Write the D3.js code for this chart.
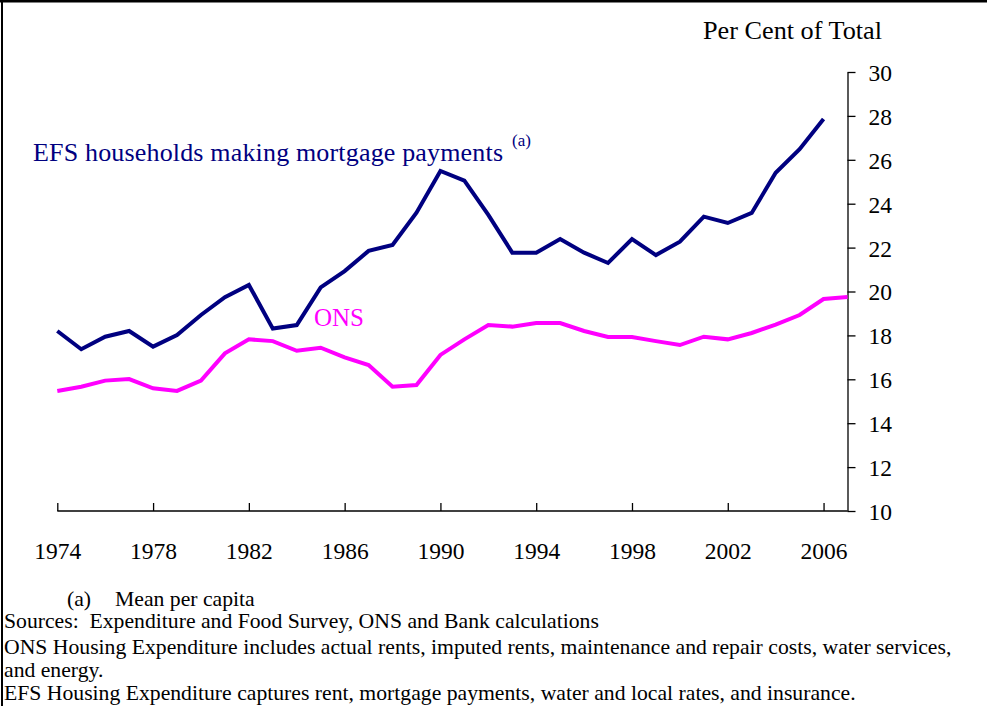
<!DOCTYPE html>
<html>
<head>
<meta charset="utf-8">
<script src="https://cdn.jsdelivr.net/npm/d3@7"></script>
<style>
  html, body { margin: 0; padding: 0; background: #fff; }
  svg { display: block; }
  text { font-family: "Liberation Serif", "Times New Roman", serif; white-space: pre; }
</style>
</head>
<body>
<svg id="chart" width="987" height="706"></svg>
<script>
const years = d3.range(1974, 2008);
const efsValues = [18.2, 17.37, 17.94, 18.2, 17.49, 18.02, 18.93, 19.74, 20.3, 18.31,
  18.47, 20.19, 20.93, 21.85, 22.12, 23.59, 25.49, 25.05, 23.49, 21.77,
  21.77, 22.39, 21.77, 21.3, 22.39, 21.66, 22.27, 23.41, 23.12, 23.58,
  25.41, 26.48, 27.86];
const onsValues = [15.47, 15.66, 15.94, 16.01, 15.59, 15.47, 15.94, 17.18, 17.82, 17.74,
  17.3, 17.44, 17.0, 16.65, 15.66, 15.74, 17.11, 17.82, 18.47, 18.4,
  18.56, 18.56, 18.2, 17.93, 17.93, 17.74, 17.56, 17.94, 17.82, 18.11,
  18.49, 18.93, 19.66, 19.75];
const xTickYears = [1974, 1978, 1982, 1986, 1990, 1994, 1998, 2002, 2006];
const yTicks = [10, 12, 14, 16, 18, 20, 22, 24, 26, 28, 30];
const labels = {
  efs: "EFS households making mortgage payments",
  efsNote: "(a)",
  ons: "ONS",
  unit: "Per Cent of Total"
};
const footnotes = [
  "Sources:  Expenditure and Food Survey, ONS and Bank calculations",
  "ONS Housing Expenditure includes actual rents, imputed rents, maintenance and repair costs, water services,",
  "and energy.",
  "EFS Housing Expenditure captures rent, mortgage payments, water and local rates, and insurance."
];

const SERIF = '"Liberation Serif", "Times New Roman", serif';
const svg = d3.select("#chart");
const x = d3.scaleLinear().domain([1974, 2007]).range([57.3, 847.5]);
const y = d3.scaleLinear().domain([10, 30]).range([511, 72]);

// frame (top and left edges)
svg.append("line").attr("x1", 0).attr("x2", 987).attr("y1", 1).attr("y2", 1)
  .attr("stroke", "#000").attr("stroke-width", 3);
svg.append("line").attr("x1", 2).attr("x2", 2).attr("y1", 0).attr("y2", 706)
  .attr("stroke", "#000").attr("stroke-width", 2);

// x axis
const xAxis = d3.axisBottom(x).tickValues(xTickYears).tickFormat(d3.format("d"))
  .tickSizeInner(-8).tickSizeOuter(0).tickPadding(0);
const gx = svg.append("g").attr("transform", "translate(0,511)").call(xAxis);
gx.select(".domain").attr("stroke", "#000").attr("stroke-width", 1.3)
  .attr("d", `M${x(1974)},0H${x(2007)}`);
gx.selectAll(".tick line").attr("stroke", "#000").attr("stroke-width", 1.3);
gx.selectAll(".tick text").attr("y", 48).attr("dy", null)
  .attr("font-size", 23.5).attr("fill", "#000").attr("font-family", SERIF);

// y axis (right side, ticks outward)
const yAxis = d3.axisRight(y).tickValues(yTicks).tickSizeInner(8).tickSizeOuter(0).tickPadding(13);
const gy = svg.append("g").attr("transform", `translate(${x(2007)},0)`).call(yAxis);
gy.select(".domain").attr("stroke", "#000").attr("stroke-width", 1.3);
gy.selectAll(".tick line").attr("stroke", "#000").attr("stroke-width", 1.3);
gy.selectAll(".tick text").attr("dy", "0.36em").attr("font-size", 23.5).attr("fill", "#000")
  .attr("font-family", SERIF);

// lines
const line = d3.line().x((d, i) => x(years[i])).y(d => y(d));
svg.append("path").datum(onsValues).attr("d", line).attr("fill", "none")
  .attr("stroke", "#ff00ff").attr("stroke-width", 4).attr("stroke-linejoin", "miter");
svg.append("path").datum(efsValues).attr("d", line).attr("fill", "none")
  .attr("stroke", "#000080").attr("stroke-width", 4).attr("stroke-linejoin", "miter");

// labels
svg.append("text").attr("x", 33).attr("y", 161).attr("font-size", 26).attr("fill", "#000080")
  .attr("font-family", SERIF).attr("textLength", 470).attr("lengthAdjust", "spacing")
  .text(labels.efs);
svg.append("text").attr("x", 512).attr("y", 146).attr("font-size", 17).attr("fill", "#000080")
  .attr("font-family", SERIF).text(labels.efsNote);
svg.append("text").attr("x", 314).attr("y", 326).attr("font-size", 25).attr("fill", "#ff00ff")
  .attr("font-family", SERIF).text(labels.ons);
svg.append("text").attr("x", 703).attr("y", 39).attr("font-size", 25).attr("fill", "#000")
  .attr("font-family", SERIF).attr("textLength", 179).attr("lengthAdjust", "spacingAndGlyphs")
  .text(labels.unit);

// footnotes
const fn = svg.append("g").attr("font-size", 21.7).attr("fill", "#000").attr("font-family", SERIF);
fn.append("text").attr("x", 67).attr("y", 606).text("(a)");
fn.append("text").attr("x", 115).attr("y", 606).text("Mean per capita");
const fnY = [628, 654, 677, 700];
footnotes.forEach((t, i) => {
  fn.append("text").attr("x", 4).attr("y", fnY[i]).text(t);
});
</script>
</body>
</html>
